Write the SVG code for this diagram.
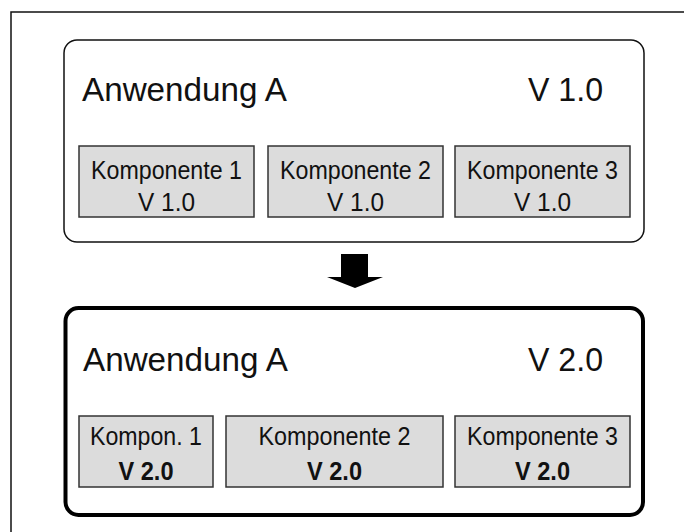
<svg xmlns="http://www.w3.org/2000/svg" width="684" height="532" viewBox="0 0 684 532">
<style>
text{font-family:"Liberation Sans",Arial,sans-serif;fill:#111}
.big{font-size:33px}
.cmp{font-size:25.5px;text-anchor:middle}
.b{font-weight:bold}
.comp{fill:#dcdcdc;stroke:#333;stroke-width:1.5}
</style>
<rect width="684" height="532" fill="#fff"/>
<path d="M11,532 V12 H684" fill="none" stroke="#111" stroke-width="1.5"/>
<g id="app-v1">
<rect x="64" y="40" width="580" height="202" rx="13" fill="#fff" stroke="#111" stroke-width="1.5"/>
<text class="big" x="82" y="101" textLength="205" lengthAdjust="spacingAndGlyphs">Anwendung A</text>
<text class="big" x="528" y="101" textLength="75" lengthAdjust="spacingAndGlyphs">V 1.0</text>
</g>
<g id="v1-comp1">
<rect class="comp" x="79" y="146" width="175" height="71"/>
<text class="cmp" x="166.5" y="179" textLength="151" lengthAdjust="spacingAndGlyphs">Komponente 1</text>
<text class="cmp" x="166.5" y="211" textLength="57" lengthAdjust="spacingAndGlyphs">V 1.0</text>
</g>
<g id="v1-comp2">
<rect class="comp" x="268" y="146" width="175" height="71"/>
<text class="cmp" x="355.5" y="179" textLength="151" lengthAdjust="spacingAndGlyphs">Komponente 2</text>
<text class="cmp" x="355.5" y="211" textLength="57" lengthAdjust="spacingAndGlyphs">V 1.0</text>
</g>
<g id="v1-comp3">
<rect class="comp" x="455" y="146" width="175" height="71"/>
<text class="cmp" x="542.5" y="179" textLength="151" lengthAdjust="spacingAndGlyphs">Komponente 3</text>
<text class="cmp" x="542.5" y="211" textLength="57" lengthAdjust="spacingAndGlyphs">V 1.0</text>
</g>
<g id="connectors">
<path d="M341,254 H368 V277 H383 L355,288 L327,277 H341 Z" fill="#000"/>
</g>
<g id="app-v2">
<rect x="65.5" y="308" width="577.5" height="207" rx="13" fill="#fff" stroke="#000" stroke-width="4"/>
<text class="big" x="83" y="371" textLength="205" lengthAdjust="spacingAndGlyphs">Anwendung A</text>
<text class="big" x="528" y="371" textLength="75" lengthAdjust="spacingAndGlyphs">V 2.0</text>
</g>
<g id="v2-comp1">
<rect class="comp" x="79" y="416" width="134" height="71"/>
<text class="cmp" x="146" y="445" textLength="112" lengthAdjust="spacingAndGlyphs">Kompon. 1</text>
<text class="cmp b" x="146" y="480" textLength="55" lengthAdjust="spacingAndGlyphs">V 2.0</text>
</g>
<g id="v2-comp2">
<rect class="comp" x="226" y="416" width="217" height="71"/>
<text class="cmp" x="334.5" y="445" textLength="152" lengthAdjust="spacingAndGlyphs">Komponente 2</text>
<text class="cmp b" x="334.5" y="480" textLength="55" lengthAdjust="spacingAndGlyphs">V 2.0</text>
</g>
<g id="v2-comp3">
<rect class="comp" x="455" y="416" width="175" height="71"/>
<text class="cmp" x="542.5" y="445" textLength="151" lengthAdjust="spacingAndGlyphs">Komponente 3</text>
<text class="cmp b" x="542.5" y="480" textLength="55" lengthAdjust="spacingAndGlyphs">V 2.0</text>
</g>
</svg>
